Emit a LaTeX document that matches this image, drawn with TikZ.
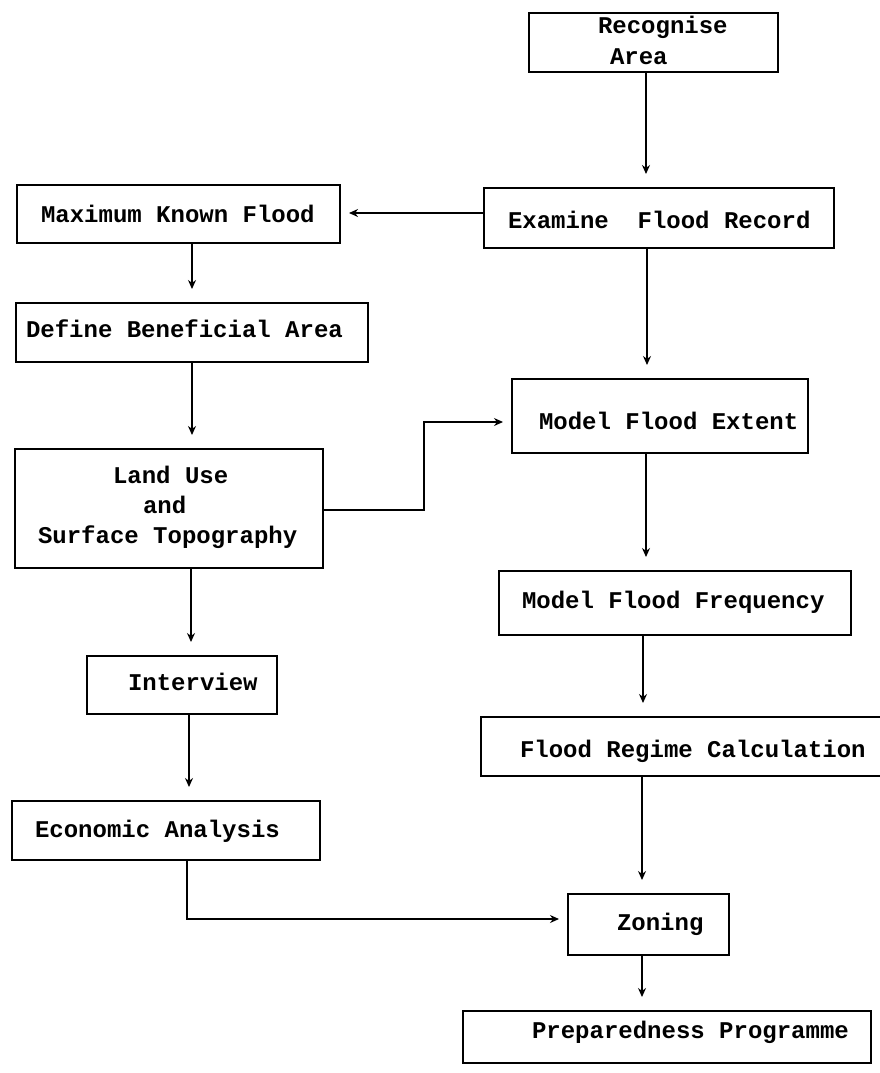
\documentclass[tikz,border=0pt]{standalone}
\usepackage{fontspec}
\newfontfamily\dmfont{Liberation Mono}
\usetikzlibrary{arrows.meta,calc}
\tikzset{
  box/.style={draw, line width=1.8pt, inner sep=0pt, outer sep=0pt},
  txt/.style={anchor=base west, inner sep=0pt, outer sep=0pt, font=\dmfont\bfseries\fontsize{24}{28}\selectfont},
  vflow/.style={-{Stealth[length=9pt,width=8pt]}, line width=1.4pt, shorten >=14pt},
  hflow/.style={-{Stealth[length=9pt,width=8pt]}, line width=1.4pt, shorten >=9pt},
}
\begin{document}
\begin{tikzpicture}[x=1pt,y=-1pt]
\useasboundingbox (0,0) rectangle (880,1073);
% boxes
\node[box, minimum width=249pt, minimum height=59pt] (rec)  at (653.5,42.5) {};
\node[box, minimum width=350pt, minimum height=60pt] (exa)  at (659,218) {};
\node[box, minimum width=323pt, minimum height=58pt] (max)  at (178.5,214) {};
\node[box, minimum width=352pt, minimum height=59pt] (def)  at (192,332.5) {};
\node[box, minimum width=308pt, minimum height=119pt] (land) at (169,508.5) {};
\node[box, minimum width=296pt, minimum height=74pt] (ext)  at (660,416) {};
\node[box, minimum width=352pt, minimum height=64pt] (freq) at (675,603) {};
\node[box, minimum width=190pt, minimum height=58pt] (int)  at (182,685) {};
\node[box, minimum width=405pt, minimum height=59pt] (reg)  at (683.5,746.5) {};
\node[box, minimum width=308pt, minimum height=59pt] (eco)  at (166,830.5) {};
\node[box, minimum width=161pt, minimum height=61pt] (zon)  at (648.5,924.5) {};
\node[box, minimum width=408pt, minimum height=52pt] (prep) at (667,1037) {};
% texts
\node[txt] (trec1) at (598,34) {Recognise};
\node[txt] (trec2) at (610,64) {Area};
\node[txt] (texa)  at (508,228) {Examine~~Flood Record};
\node[txt] (tmax)  at (41,222) {Maximum Known Flood};
\node[txt] (tdef)  at (26,337) {Define Beneficial Area};
\node[txt] (tland1) at (113,483) {Land Use};
\node[txt] (tland2) at (143,513) {and};
\node[txt] (tland3) at (38,543) {Surface Topography};
\node[txt] (text)  at (539,429) {Model Flood Extent};
\node[txt] (tfreq) at (522,608) {Model Flood Frequency};
\node[txt] (tint)  at (128,690) {Interview};
\node[txt] (treg)  at (520,757) {Flood Regime Calculation};
\node[txt] (teco)  at (35,837) {Economic Analysis};
\node[txt] (tzon)  at (617,930) {Zoning};
\node[txt] (tprep) at (532,1038) {Preparedness Programme};
% connectors
\draw[vflow] (646,0 |- rec.south) -- (646,0 |- exa.north);
\draw[hflow] (exa.west |- 0,213) -- (max.east |- 0,213);
\draw[vflow] (192,0 |- max.south) -- (192,0 |- def.north);
\draw[vflow] (647,0 |- exa.south) -- (647,0 |- ext.north);
\draw[vflow] (192,0 |- def.south) -- (192,0 |- land.north);
\draw[hflow] (land.east |- 0,510) -- (424,510) -- (424,422) -- (ext.west |- 0,422);
\draw[vflow] (646,0 |- ext.south) -- (646,0 |- freq.north);
\draw[vflow] (191,0 |- land.south) -- (191,0 |- int.north);
\draw[vflow] (643,0 |- freq.south) -- (643,0 |- reg.north);
\draw[vflow] (189,0 |- int.south) -- (189,0 |- eco.north);
\draw[hflow] (187,0 |- eco.south) |- (zon.west |- 0,919);
\draw[vflow] (642,0 |- reg.south) -- (642,0 |- zon.north);
\draw[vflow] (642,0 |- zon.south) -- (642,0 |- prep.north);
\end{tikzpicture}
\end{document}
